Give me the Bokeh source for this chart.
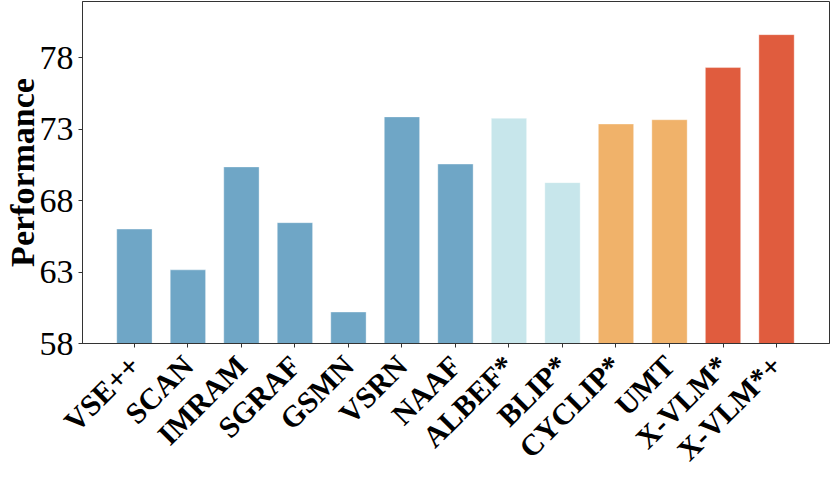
import math
from bokeh.plotting import figure
from bokeh.models import FixedTicker, ColumnDataSource, Range1d
from bokeh.embed import file_html
from bokeh.resources import INLINE

# ---- data ----
models = ["VSE++", "SCAN", "IMRAM", "SGRAF", "GSMN", "VSRN", "NAAF",
          "ALBEF*", "BLIP*", "CYCLIP*", "UMT", "X-VLM*", "X-VLM*+"]
performance = [66.0, 63.15, 70.35, 66.45, 60.2, 73.85, 70.55,
               73.75, 69.25, 73.35, 73.65, 77.3, 79.6]
groups = ["g1", "g1", "g1", "g1", "g1", "g1", "g1",
          "g2", "g2", "g3", "g3", "g4", "g4"]
y_ticks = [58, 63, 68, 73, 78]

# ---- styles ----
FONT = "'Liberation Serif', 'Times New Roman', serif"
palette = {"g1": "#6fa6c6", "g2": "#c7e6eb", "g3": "#f0b26a", "g4": "#e05c3e"}
xs = list(range(len(models)))
src = ColumnDataSource(dict(x=xs, top=performance, name=models,
                            color=[palette[g] for g in groups]))

p = figure(width=830, height=481, output_backend="svg", toolbar_location=None,
           x_range=Range1d(-0.97, 12.99), y_range=Range1d(y_ticks[0], 81.92),
           min_border_left=81, min_border_right=1, min_border_top=1,
           min_border_bottom=138)

p.vbar(x="x", top="top", bottom=0, width=0.66, fill_color="color",
       line_color="white", line_alpha=0.35, line_width=1, source=src)

p.xgrid.visible = False
p.ygrid.visible = False
p.outline_line_color = "#333333"
p.outline_line_width = 1

for ax in (p.xaxis[0], p.yaxis[0]):
    ax.axis_line_color = "#333333"
    ax.major_tick_line_color = "#333333"
    ax.major_tick_out = 4
    ax.major_tick_in = 0
    ax.minor_tick_line_color = None
    ax.major_label_text_font = FONT
    ax.major_label_text_color = "black"

p.xaxis.ticker = FixedTicker(ticks=xs)
p.xaxis.major_label_overrides = {i: m for i, m in enumerate(models)}
p.xaxis.major_label_orientation = math.pi / 4
p.xaxis.major_label_text_font_size = "30px"
p.xaxis.major_label_text_font_style = "bold"
p.xaxis.major_label_standoff = 13

p.yaxis.ticker = FixedTicker(ticks=y_ticks)
p.yaxis.major_label_text_font_size = "34px"
p.yaxis.major_label_standoff = 5
p.yaxis.axis_label = "Performance"
p.yaxis.axis_label_text_font = FONT
p.yaxis.axis_label_text_font_size = "34px"
p.yaxis.axis_label_text_font_style = "bold"
p.yaxis.axis_label_text_color = "black"
p.yaxis.axis_label_standoff = -4

open("out.html", "w").write(file_html(p, INLINE))
